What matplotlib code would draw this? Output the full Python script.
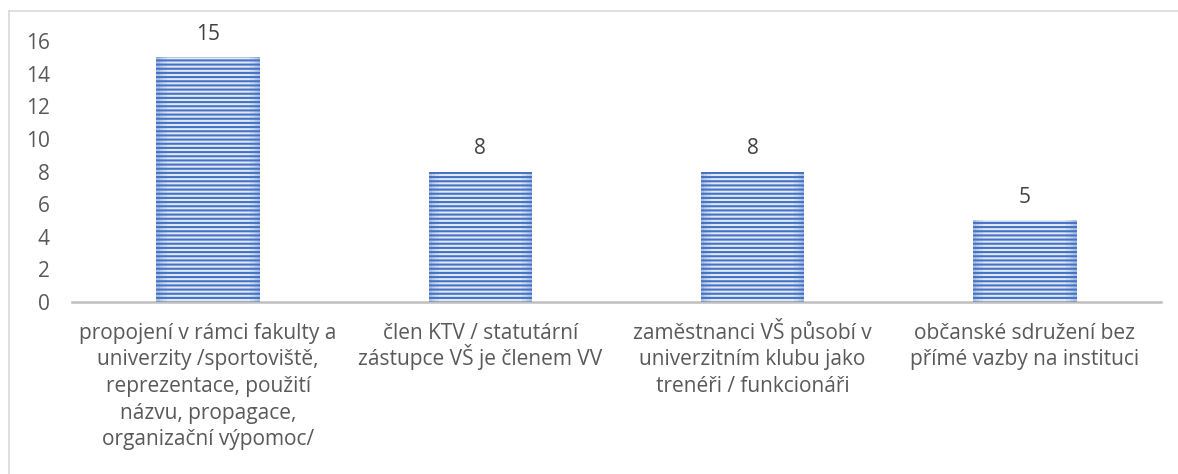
import matplotlib
matplotlib.use("Agg")
import matplotlib.pyplot as plt
from matplotlib.lines import Line2D
from matplotlib.transforms import blended_transform_factory

categories = [
    "propojení v rámci fakulty a\nuniverzity /sportoviště,\nreprezentace, použití\nnázvu, propagace,\norganizační výpomoc/",
    "člen KTV / statutární\nzástupce VŠ je členem VV",
    "zaměstnanci VŠ působí v\nuniverzitním klubu jako\ntrenéři / funkcionáři",
    "občanské sdružení bez\npřímé vazby na instituci",
]
values = [15, 8, 8, 5]
yticks = [0, 2, 4, 6, 8, 10, 12, 14, 16]

plt.rcParams["font.family"] = ["Open Sans", "DejaVu Sans"]
plt.rcParams["hatch.linewidth"] = 1.5
plt.rcParams["hatch.color"] = "#4472c4"
text_color = "#595959"
fs = 15

fig = plt.figure(figsize=(11.78, 4.74), dpi=100)
ax = fig.add_axes([72 / 1178, 1 - 302 / 474, (1161 - 72) / 1178, (302 - 41) / 474])

x = list(range(len(values)))
width = 0.38
ax.bar(x, values, width=width, color="#e2e9f6", linewidth=0,
       hatch="----", zorder=2)

# soft darker shading toward the left and right edges of each bar
for frac, alpha in [(0.10, 0.10), (0.06, 0.12), (0.03, 0.15)]:
    w = width * frac
    for xi, v in zip(x, values):
        for side in (-1, 1):
            cx = xi + side * (width / 2 - w / 2)
            ax.bar(cx, v, width=w, color="#4472c4", alpha=alpha,
                   linewidth=0, zorder=3)

for xi, v in zip(x, values):
    ax.annotate(str(v), (xi, v), xytext=(0, 9), textcoords="offset points",
                ha="center", va="bottom", fontsize=fs, color="#404040")

ax.set_xlim(-0.5, len(values) - 0.5)
ax.set_ylim(0, 16)
ax.set_yticks(yticks)
ax.set_yticklabels([str(t) for t in yticks], fontsize=fs, color=text_color)
ax.set_xticks([])
ax.tick_params(axis="y", length=0, pad=16)

# category labels, one text per line for even spacing
trans = blended_transform_factory(ax.transData, ax.transAxes)
first_baseline_pt = 37 * 0.72
line_step_pt = 26.5 * 0.72
for xi, label in zip(x, categories):
    for i, line in enumerate(label.split("\n")):
        ax.annotate(line, (xi, 0), xycoords=trans,
                    xytext=(0, -(first_baseline_pt + i * line_step_pt)),
                    textcoords="offset points", ha="center", va="baseline",
                    fontsize=fs, color=text_color, annotation_clip=False)

for side in ["top", "right", "left"]:
    ax.spines[side].set_visible(False)
ax.spines["bottom"].set_color("#bfbfbf")
ax.spines["bottom"].set_linewidth(1.8)

# chart area frame (left and top edges)
fig.add_artist(Line2D([9 / 1178, 9 / 1178], [0, 1 - 11 / 474],
                      transform=fig.transFigure, color="#d9d9d9", lw=1.2))
fig.add_artist(Line2D([9 / 1178, 1], [1 - 11 / 474, 1 - 11 / 474],
                      transform=fig.transFigure, color="#d9d9d9", lw=1.2))

fig.savefig("out.png", dpi=100)
